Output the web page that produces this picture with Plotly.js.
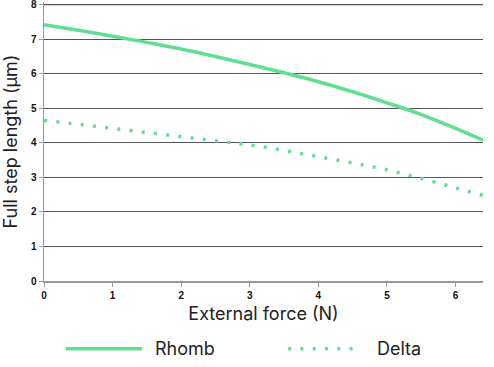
<!DOCTYPE html>
<html><head><meta charset="utf-8">
<script src="https://cdn.plot.ly/plotly-3.0.1.min.js"></script>
<style>html,body{margin:0;padding:0;background:#fff}#c{width:494px;height:367px}</style>
</head><body><div id="c"></div>
<script>
const forceN = [0, 0.5, 1, 1.5, 2, 2.5, 3, 3.5, 4, 4.5, 5, 5.5, 6, 6.4];
const rhomb = [7.42, 7.26, 7.09, 6.91, 6.72, 6.50, 6.27, 6.03, 5.77, 5.48, 5.16, 4.82, 4.42, 4.08];
const delta = [4.65, 4.54, 4.42, 4.30, 4.18, 4.06, 3.94, 3.78, 3.60, 3.42, 3.22, 2.97, 2.70, 2.48];
const seriesNames = ['Rhomb', 'Delta'];
const xTicks = [0, 1, 2, 3, 4, 5, 6];
const yTicks = [0, 1, 2, 3, 4, 5, 6, 7, 8];
const green = '#62de92';
const dotDash = '3px,9.3px';
const gridColor = '#555';
const titleFont = {family: 'Inter, sans-serif', size: 18, color: '#222'};

const traces = [
  {x: forceN, y: rhomb, name: seriesNames[0], mode: 'lines', line: {color: green, width: 3.5, shape: 'spline'}},
  {x: forceN, y: delta, name: seriesNames[1], mode: 'lines', line: {color: green, width: 3.5, dash: dotDash, shape: 'spline'}}
];
const yTop = yTicks[yTicks.length - 1];
// custom legend (line samples + labels) below the x-axis title
const legendY = -0.243;
const shapes = [
  {type: 'line', xref: 'paper', yref: 'y', x0: 0, x1: 1, y0: yTop, y1: yTop, layer: 'above', line: {color: gridColor, width: 1.2}},
  {type: 'line', xref: 'paper', yref: 'paper', x0: 0.050, x1: 0.223, y0: legendY, y1: legendY, line: {color: green, width: 3.5}},
  {type: 'line', xref: 'paper', yref: 'paper', x0: 0.556, x1: 0.712, y0: legendY, y1: legendY, line: {color: green, width: 3.5, dash: dotDash}}
];
const annotations = [
  {xref: 'paper', yref: 'paper', x: 0.249, y: legendY, xanchor: 'left', yanchor: 'middle', showarrow: false, text: seriesNames[0], font: titleFont},
  {xref: 'paper', yref: 'paper', x: 0.755, y: legendY, xanchor: 'left', yanchor: 'middle', showarrow: false, text: seriesNames[1], font: titleFont}
];
const tickFont = {family: 'Liberation Sans, Arial, sans-serif', size: 10, color: '#111', weight: 'bold'};
const layout = {
  width: 494, height: 367,
  margin: {l: 44, r: 11, t: 2, b: 86},
  paper_bgcolor: '#fff', plot_bgcolor: '#fff',
  showlegend: false,
  shapes: shapes, annotations: annotations,
  xaxis: {range: [0, 6.4], tickvals: xTicks, ticks: 'outside', ticklen: 4, tickcolor: '#999',
    showgrid: false, zeroline: false, showline: true, linecolor: '#999', linewidth: 2,
    tickfont: tickFont, fixedrange: true, automargin: false, ticklabeloverflow: 'allow',
    title: {text: 'External force (N)', font: titleFont, standoff: 7}},
  yaxis: {range: [0, 8.08], tickvals: yTicks, ticks: 'outside', ticklen: 4, tickcolor: '#999',
    showgrid: true, gridcolor: gridColor, gridwidth: 1, zeroline: false, showline: true, linecolor: '#999', linewidth: 1.5,
    tickfont: tickFont, fixedrange: true, automargin: false, ticklabeloverflow: 'allow',
    title: {text: 'Full step length (µm)', font: titleFont, standoff: 8}}
};
Plotly.newPlot('c', traces, layout, {displayModeBar: false, staticPlot: true});
</script></body></html>
